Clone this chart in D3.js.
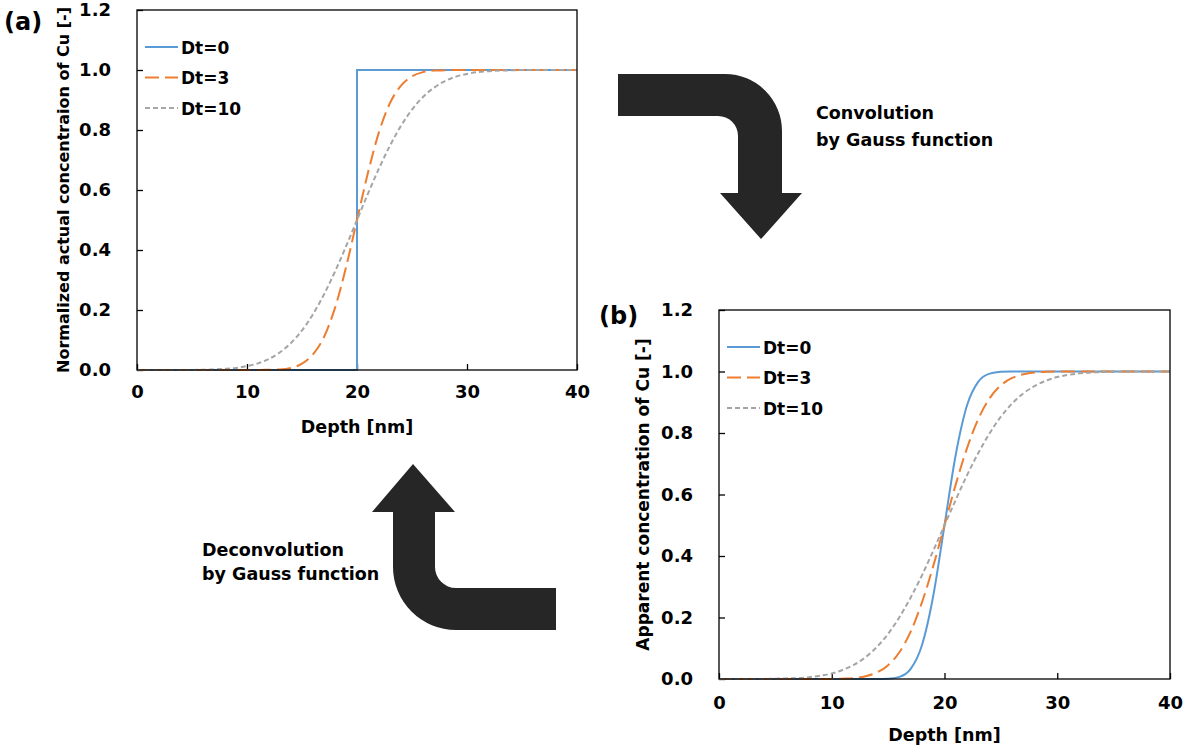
<!DOCTYPE html>
<html>
<head>
<meta charset="utf-8">
<script src="https://cdn.jsdelivr.net/npm/d3@7"></script>
<style>
  body { margin: 0; background: #fff; }
  text { font-family: "DejaVu Sans", sans-serif; font-weight: bold; fill: #000; }
</style>
</head>
<body>
<div id="chart"></div>
<script>
// depth grid [nm] shared by the smooth profiles
const depthNm = [0,1,2,3,4,5,6,7,8,9,10,11,12,13,14,15,16,17,18,19,20,
                 21,22,23,24,25,26,27,28,29,30,31,32,33,34,35,36,37,38,39,40];

// (a) actual profiles
const actualDt0Depth = [0, 20, 20, 40];
const actualDt0 = [0, 0, 1, 1];
const actualDt3 = [0,0,0,0,0,0,0,0,0,0,0,0,0.001,0.002,0.007,0.021,0.052,0.110,0.207,0.342,0.5,
                   0.658,0.793,0.890,0.948,0.979,0.993,0.998,0.999,1,1,1,1,1,1,1,1,1,1,1,1];
const actualDt10 = [0,0,0,0,0,0,0.001,0.002,0.004,0.007,0.013,0.022,0.037,0.059,0.090,0.132,0.186,0.252,0.328,0.412,0.5,
                    0.588,0.672,0.748,0.814,0.868,0.910,0.941,0.963,0.978,0.987,0.993,0.996,0.998,0.999,1,1,1,1,1,1];

// (b) apparent profiles
const apparentDt0 = [0,0,0,0,0,0,0,0,0,0,0,0,0,0,0,0.001,0.007,0.033,0.110,0.270,0.5,
                     0.730,0.890,0.967,0.993,0.999,1,1,1,1,1,1,1,1,1,1,1,1,1,1,1];
const apparentDt3 = [0,0,0,0,0,0,0,0,0,0,0,0.001,0.003,0.009,0.021,0.045,0.087,0.154,0.249,0.367,0.5,
                     0.633,0.751,0.846,0.913,0.955,0.979,0.991,0.997,0.999,1,1,1,1,1,1,1,1,1,1,1];
const apparentDt10 = [0,0,0,0,0,0.001,0.002,0.003,0.006,0.011,0.018,0.030,0.047,0.071,0.104,0.147,0.201,0.265,0.337,0.417,0.5,
                      0.583,0.663,0.735,0.799,0.853,0.896,0.929,0.953,0.970,0.982,0.989,0.994,0.997,0.998,0.999,1,1,1,1,1];

const seriesNames = ["Dt=0", "Dt=3", "Dt=10"];
const xTicks = [0, 10, 20, 30, 40];
const yTicks = [0, 0.2, 0.4, 0.6, 0.8, 1.0, 1.2];

const COLORS = ["#5B9BD5", "#ED7D31", "#A5A5A5"];
const DASHES = [null, "14,6", "5,3"];
const ARROW_COLOR = "#262626";

const svg = d3.select("#chart").append("svg")
  .attr("width", 1187)
  .attr("height", 753)
  .style("background", "#fff");

function drawPanel(p) {
  const x = d3.scaleLinear().domain([0, 40]).range([p.left, p.right]);
  const y = d3.scaleLinear().domain([0, 1.2]).range([p.bottom, p.top]);
  const g = svg.append("g");

  // y axis (ticks point into the plot)
  g.append("g")
    .attr("transform", `translate(${p.left},0)`)
    .call(d3.axisLeft(y).tickValues(yTicks).tickFormat(d3.format(".1f")).tickSize(-6).tickPadding(p.yPad))
    .call(a => a.select(".domain").remove())
    .call(a => a.selectAll("line").attr("stroke", "#000").attr("stroke-width", 1.3))
    .call(a => a.selectAll("text").style("font-size", p.tickFont + "px").style("font-family", "DejaVu Sans").style("font-weight", "bold"));

  // x axis
  g.append("g")
    .attr("transform", `translate(0,${p.bottom})`)
    .call(d3.axisBottom(x).tickValues(xTicks).tickSize(-6).tickPadding(p.xPad))
    .call(a => a.select(".domain").remove())
    .call(a => a.selectAll("line").attr("stroke", "#000").attr("stroke-width", 1.3))
    .call(a => a.selectAll("text").style("font-size", p.tickFont + "px").style("font-family", "DejaVu Sans").style("font-weight", "bold"));

  // lines
  p.series.forEach((s, i) => {
    const pts = s.depth.map((d, k) => [d, s.values[k]]);
    g.append("path")
      .datum(pts)
      .attr("fill", "none")
      .attr("stroke", COLORS[i])
      .attr("stroke-width", 2)
      .attr("stroke-dasharray", DASHES[i])
      .attr("d", d3.line().x(d => x(d[0])).y(d => y(d[1])).curve(s.curve));
  });

  // plot frame
  g.append("rect")
    .attr("x", p.left).attr("y", p.top)
    .attr("width", p.right - p.left).attr("height", p.bottom - p.top)
    .attr("fill", "none").attr("stroke", "#000").attr("stroke-width", 1.3);

  // legend
  seriesNames.forEach((name, i) => {
    const ly = p.legendY + i * p.legendStep;
    g.append("line")
      .attr("x1", p.legendX).attr("x2", p.legendX + 33)
      .attr("y1", ly).attr("y2", ly)
      .attr("stroke", COLORS[i]).attr("stroke-width", 2)
      .attr("stroke-dasharray", DASHES[i]);
    g.append("text")
      .attr("x", p.legendX + 36).attr("y", ly + 6.5)
      .style("font-size", "17px")
      .text(name);
  });

  // axis titles
  g.append("text")
    .attr("x", (p.left + p.right) / 2).attr("y", p.bottom + p.xTitleOff)
    .attr("text-anchor", "middle")
    .style("font-size", "17.5px")
    .text("Depth [nm]");
  g.append("text")
    .attr("transform", `translate(${p.yTitleX},${(p.top + p.bottom) / 2}) rotate(-90)`)
    .attr("text-anchor", "middle")
    .style("font-size", p.yTitleFont + "px")
    .text(p.yTitle);

  // panel letter
  g.append("text")
    .attr("x", p.tagX).attr("y", p.tagY)
    .style("font-size", "24px")
    .text(p.tag);
}

drawPanel({
  left: 137, right: 577, top: 10, bottom: 370,
  yPad: 26, xPad: 15, tickFont: 18,
  legendX: 145, legendY: 47, legendStep: 30.5,
  xTitleOff: 63, yTitleX: 69, yTitleFont: 16,
  yTitle: "Normalized actual concentraion of Cu [-]",
  tag: "(a)", tagX: 4, tagY: 30,
  series: [
    { depth: actualDt0Depth, values: actualDt0, curve: d3.curveLinear },
    { depth: depthNm, values: actualDt3, curve: d3.curveMonotoneX },
    { depth: depthNm, values: actualDt10, curve: d3.curveMonotoneX }
  ]
});

drawPanel({
  left: 719, right: 1170, top: 310, bottom: 679,
  yPad: 26, xPad: 17, tickFont: 18,
  legendX: 727, legendY: 347, legendStep: 30.5,
  xTitleOff: 62, yTitleX: 649, yTitleFont: 17,
  yTitle: "Apparent concentration of Cu [-]",
  tag: "(b)", tagX: 599, tagY: 324,
  series: [
    { depth: depthNm, values: apparentDt0, curve: d3.curveMonotoneX },
    { depth: depthNm, values: apparentDt3, curve: d3.curveMonotoneX },
    { depth: depthNm, values: apparentDt10, curve: d3.curveMonotoneX }
  ]
});

// BENT ARROWS BETWEEN PANELS
svg.append("path")
  .attr("d", "M618,74 H725 A57,57 0 0 1 782,131 V193 H802 L761,239 L720,193 H738 V136 A20,20 0 0 0 718,116 H618 Z")
  .attr("fill", ARROW_COLOR);

svg.append("path")
  .attr("d", "M556,588 H456 A21,21 0 0 1 435,567 V512 H455 L413,464 L372,512 H393 V567 A63,63 0 0 0 456,630 H556 Z")
  .attr("fill", ARROW_COLOR);

svg.append("text").attr("x", 816).attr("y", 119).style("font-size", "17.5px").text("Convolution");
svg.append("text").attr("x", 816).attr("y", 146).style("font-size", "17.5px").text("by Gauss function");
svg.append("text").attr("x", 202).attr("y", 556).style("font-size", "17.5px").text("Deconvolution");
svg.append("text").attr("x", 202).attr("y", 580).style("font-size", "17.5px").text("by Gauss function");
</script>
</body>
</html>
